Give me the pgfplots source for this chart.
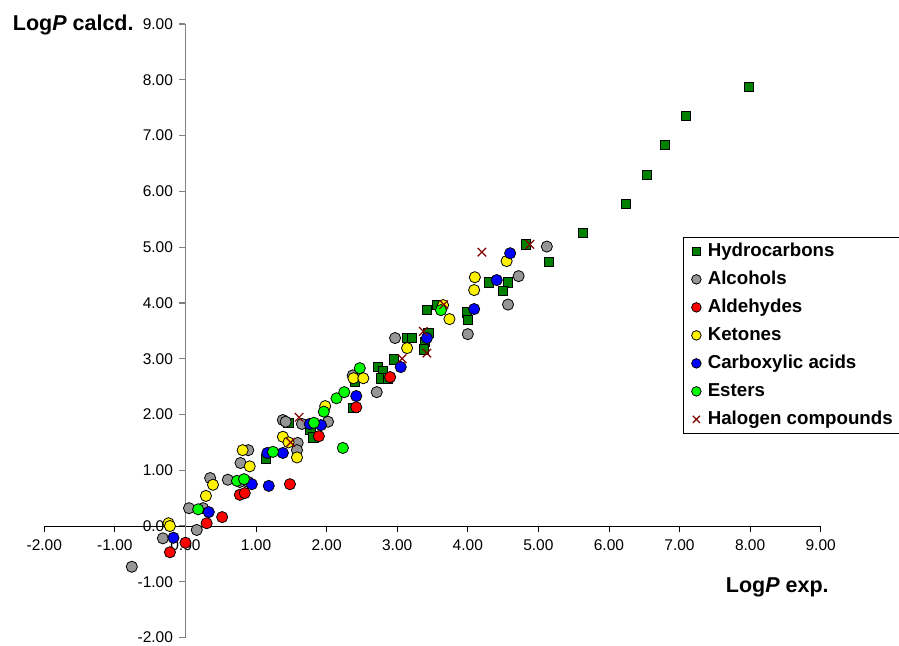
\documentclass[border=0pt]{standalone}
\usepackage{fontspec}
\setmainfont{Liberation Sans}
\usepackage{pgfplots}
\pgfplotsset{compat=1.18}
\definecolor{hcgreen}{RGB}{0,128,0}
\definecolor{alcgray}{RGB}{150,150,150}
\definecolor{axgray}{RGB}{128,128,128}
\definecolor{halred}{RGB}{128,0,0}
\begin{document}
\begin{tikzpicture}
\begin{axis}[
  at={(0pt,0pt)}, anchor=south west,
  scale only axis, width=776.4pt, height=613.6pt,
  xmin=-2, xmax=9, ymin=-2, ymax=9,
  axis lines=middle,
  axis line style={-},
  x axis line style={black, line width=0.9pt},
  y axis line style={axgray, line width=1.4pt},
  xtick={-2,-1,0,1,2,3,4,5,6,7,8,9},
  ytick={-2,-1,0,1,2,3,4,5,6,7,8,9},
  hide obscured x ticks=false, hide obscured y ticks=false,
  tick align=outside, major tick length=6pt,
  x tick style={black, line width=0.9pt},
  y tick style={axgray, line width=1.2pt},
  ticklabel style={font=\fontsize{15.5}{18}\selectfont},
  xticklabel style={yshift=-4pt},
  yticklabel style={xshift=-3pt},
  /pgf/number format/fixed, /pgf/number format/fixed zerofill,
  /pgf/number format/precision=2, /pgf/number format/assume math mode=true,
  legend style={at={(0.8226,0.6529)}, anchor=north west, draw=black, line width=0.8pt,
    fill=white, font=\bfseries\fontsize{18.7}{22}\selectfont,
    nodes={inner sep=0pt, text height=14pt, text depth=4pt},
    row sep=10pt, inner xsep=8pt, inner ysep=5pt},
  legend cell align=left,
  legend image code/.code={\draw[#1, every mark/.append style={scale=0.85}] plot coordinates {(0pt,0pt)}; \path (-4.6pt,0pt) (11pt,0pt);},
  clip=false,
]
\addplot[only marks, mark=square*, mark size=4.7pt, mark options={fill=hcgreen, draw=black, line width=0.8pt}] coordinates {
(1.14,1.20) (1.46,1.85) (1.77,1.72) (1.81,1.59) (2.38,2.12) (2.40,2.58) (2.73,2.85) (2.80,2.77) (2.77,2.65) (2.87,2.65) (2.95,2.99) (3.14,3.37) (3.21,3.37) (3.44,3.46) (3.39,3.30) (3.38,3.17) (3.42,3.88) (3.56,3.96) (3.99,3.83) (4.00,3.69) (4.30,4.37) (4.57,4.37) (4.50,4.22) (4.82,5.05) (5.15,4.74) (5.63,5.25) (6.24,5.77) (6.54,6.30) (6.79,6.83) (7.09,7.35) (7.98,7.87)
};
\addlegendentry{Hydrocarbons}
\addplot[only marks, mark=*, mark size=5.6pt, mark options={fill=alcgray, draw=black, line width=0.8pt}] coordinates {
(-0.76,-0.73) (-0.32,-0.22) (0.05,0.32) (0.16,-0.07) (0.25,0.32) (0.35,0.86) (0.60,0.83) (0.78,1.13) (0.89,1.36) (0.77,0.79) (0.89,0.79) (1.38,1.90) (1.42,1.87) (1.65,1.83) (2.02,1.87) (1.59,1.49) (1.58,1.36) (2.37,2.70) (2.71,2.40) (2.97,3.37) (4.00,3.44) (4.57,3.97) (4.72,4.48) (5.12,5.01)
};
\addlegendentry{Alcohols}
\addplot[only marks, mark=*, mark size=5.6pt, mark options={fill=red, draw=black, line width=0.8pt}] coordinates {
(-0.22,-0.47) (0.00,-0.30) (0.30,0.05) (0.52,0.16) (0.77,0.56) (0.84,0.59) (1.48,0.75) (1.89,1.61) (2.42,2.13) (2.90,2.67)
};
\addlegendentry{Aldehydes}
\addplot[only marks, mark=*, mark size=5.6pt, mark options={fill=yellow, draw=black, line width=0.8pt}] coordinates {
(-0.24,0.05) (-0.22,0.00) (0.29,0.54) (0.39,0.74) (0.81,1.36) (0.91,1.07) (1.38,1.60) (1.46,1.50) (1.58,1.23) (1.98,2.15) (2.38,2.65) (2.52,2.65) (3.14,3.19) (3.65,3.96) (3.74,3.71) (4.09,4.23) (4.10,4.46) (4.55,4.75)
};
\addlegendentry{Ketones}
\addplot[only marks, mark=*, mark size=5.6pt, mark options={fill=blue, draw=black, line width=0.8pt}] coordinates {
(-0.17,-0.21) (0.33,0.25) (0.94,0.75) (1.18,0.72) (1.16,1.31) (1.38,1.31) (1.76,1.83) (1.92,1.81) (2.42,2.33) (3.05,2.85) (3.42,3.37) (4.09,3.89) (4.41,4.41) (4.60,4.89)
};
\addlegendentry{Carboxylic acids}
\addplot[only marks, mark=*, mark size=5.6pt, mark options={fill=green, draw=black, line width=0.8pt}] coordinates {
(0.18,0.30) (0.73,0.81) (0.83,0.84) (1.24,1.33) (1.82,1.85) (1.96,2.05) (2.14,2.29) (2.25,2.40) (2.47,2.83) (2.23,1.40) (3.62,3.87)
};
\addlegendentry{Esters}
\addplot[only marks, mark=x, mark size=6pt, mark options={draw=halred, line width=1.2pt}] coordinates {
(1.49,1.50) (1.61,1.95) (3.07,3.00) (3.37,3.49) (3.42,3.10) (3.66,3.97) (4.20,4.91) (4.88,5.05)
};
\addlegendentry{Halogen compounds}
\node[anchor=base west, inner sep=0pt, font=\bfseries\fontsize{21.5}{24}\selectfont] at (axis description cs:-0.0407,0.9886) {Log\textit{P} calcd.};
\node[anchor=base west, inner sep=0pt, font=\bfseries\fontsize{21.5}{24}\selectfont] at (axis description cs:0.8776,0.0727) {Log\textit{P} exp.};
\end{axis}
\pgfresetboundingbox
\path[use as bounding box] (-44.3pt,-7.4pt) rectangle (854.7pt,637.6pt);
\end{tikzpicture}
\end{document}
